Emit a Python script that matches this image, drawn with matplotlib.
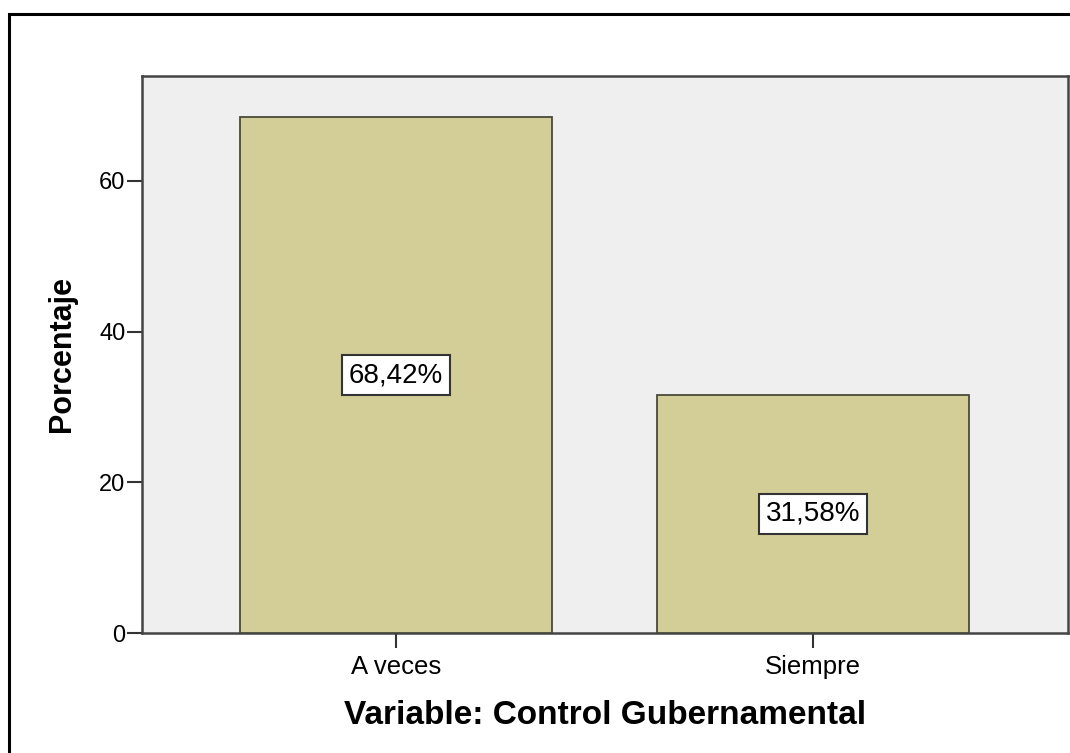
import matplotlib.pyplot as plt
from matplotlib.patches import Rectangle

categories = ['A veces', 'Siempre']
percentages = [68.42, 31.58]
value_labels = ['68,42%', '31,58%']
y_ticks = [0, 20, 40, 60]

plt.rcParams['font.family'] = ['Liberation Sans', 'DejaVu Sans']

W, H = 1070, 753
fig = plt.figure(figsize=(W / 100, H / 100), dpi=100)
fig.patch.set_facecolor('white')

# outer frame (cut at right/bottom edge like the original)
fig.patches.append(Rectangle((9 / W, -0.1), 1.2, 1 - 14 / H + 0.1, transform=fig.transFigure,
                             fill=False, edgecolor='black', linewidth=2.2))

# axes box in pixel coords: left 142, right 1068, top 76, bottom 633
ax = fig.add_axes([142 / W, 1 - 633 / H, (1068 - 142) / W, (633 - 76) / H])
ax.set_facecolor('#efefef')

x = list(range(len(categories)))
bars = ax.bar(x, percentages, width=0.748, color='#d3ce98', edgecolor='#4a4a3a',
              linewidth=1.3, zorder=3)

for bar, lab in zip(bars, value_labels):
    h = bar.get_height()
    ax.text(bar.get_x() + bar.get_width() / 2, h / 2, lab, ha='center', va='center',
            fontsize=20, color='black', zorder=4,
            bbox=dict(boxstyle='square,pad=0.24', facecolor='white', edgecolor='#333333',
                      linewidth=1.5))

ax.set_xlim(-0.609, 1.612)
ax.set_ylim(0, 73.9)
ax.set_xticks(x)
ax.set_xticklabels(categories, fontsize=18.5)
ax.set_yticks(y_ticks)
ax.tick_params(axis='y', labelsize=17, length=11, width=1.5, color='#333333',
               direction='out', pad=1)
ax.tick_params(axis='x', length=11, width=1.5, color='#333333', direction='out', pad=5)
for s in ax.spines.values():
    s.set_color('#444444')
    s.set_linewidth(1.8)

ax.set_ylabel('Porcentaje', fontsize=22, fontweight='bold', labelpad=16)
ax.set_xlabel('Variable: Control Gubernamental', fontsize=24, fontweight='bold', labelpad=15)

fig.savefig('out.png', dpi=100)
